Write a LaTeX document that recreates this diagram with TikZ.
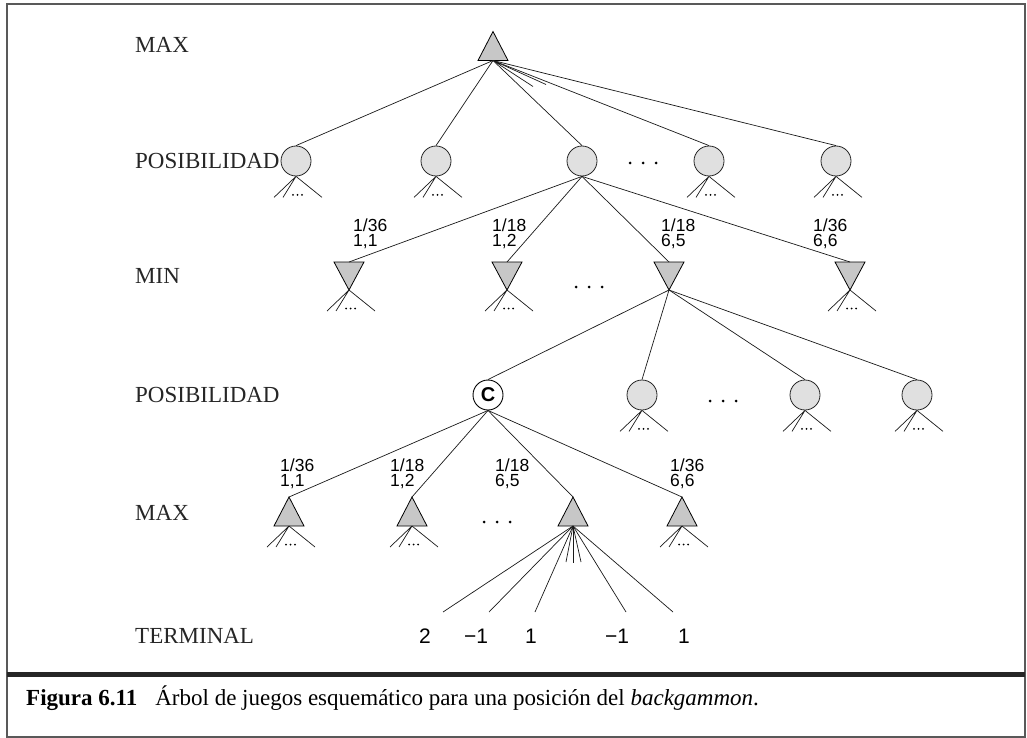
\documentclass[tikz,border=0pt]{standalone}
\usepackage{fontspec}
\setmainfont{Liberation Serif}
\newfontfamily\numfont{Liberation Sans}
\usetikzlibrary{calc}

\newcommand\MaxTri[3]{%
  \coordinate (#1) at (#2,#3);
  \coordinate (#1-t) at (#2,#3-14.5);
  \coordinate (#1-b) at (#2,#3+14.5);
  \draw[tri] (#1-t) -- (#2+15,#3+14.5) -- (#2-15,#3+14.5) -- cycle;}
\newcommand\MinTri[3]{%
  \coordinate (#1) at (#2,#3);
  \coordinate (#1-t) at (#2,#3-14);
  \coordinate (#1-b) at (#2,#3+14);
  \draw[tri] (#1-b) -- (#2+15,#3-14) -- (#2-15,#3-14) -- cycle;}
\newcommand\SubFan[1]{%
  \draw[edge] (#1) -- ++(-22,21) (#1) -- ++(-13,21) (#1) -- ++(26,21);
  \fill ($(#1)+(-3,18.5)$) circle (1) ++(4.5,0) circle (1) ++(4.5,0) circle (1);}
\newcommand\BigDots[2]{%
  \fill (#1-13,#2) circle (1.5) (#1,#2) circle (1.5) (#1+13,#2) circle (1.5);}

\begin{document}
\begin{tikzpicture}[x=1pt,y=-1pt,
  edge/.style={line width=0.7pt, black!90},
  tri/.style={draw=black, line width=0.8pt, fill=black!22, line join=miter},
  chance/.style={circle, draw=black!85, line width=0.8pt, fill=black!12, minimum size=30pt, inner sep=0pt},
  lvl/.style={anchor=base west, inner sep=0pt, font=\fontsize{23}{23}\selectfont, text=black!85},
  prob/.style={anchor=north west, inner sep=0pt, align=left, font=\numfont\fontsize{17.5}{15}\selectfont},
  term/.style={anchor=base, inner sep=0pt, font=\numfont\fontsize{21}{21}\selectfont}]
\useasboundingbox (0,0) rectangle (1027,738);

% frame
\draw[black!65, line width=1.2pt] (7,4) rectangle (1025,737);
\draw[black!85, line width=4.5pt] (7,674.5) -- (1025,674.5);

% row labels
\node[lvl] (L1) at (135,52.5) {MAX};
\node[lvl] (L2) at (135,168) {POSIBILIDAD};
\node[lvl] (L3) at (135,283) {MIN};
\node[lvl] (L4) at (135,402) {POSIBILIDAD};
\node[lvl] (L5) at (135,520) {MAX};
\node[lvl] (L6) at (135,643) {TERMINAL};

% level 0
\MaxTri{r}{493}{46}

% level 1
\node[chance] (c1) at (296,161) {};
\node[chance] (c2) at (436,161) {};
\node[chance] (c3) at (582,161) {};
\node[chance] (c4) at (709,161) {};
\node[chance] (c5) at (836,161) {};
\BigDots{643}{163}
\foreach \c in {c1,c2,c3,c4,c5} \draw[edge] (r-b) -- (\c.north);
\draw[edge] (r-b) -- ++(40,26) (r-b) -- ++(53,24);
\foreach \c in {c1,c2,c4,c5} \SubFan{\c.south};

% level 2
\MinTri{m1}{349}{276}
\MinTri{m2}{507}{276}
\MinTri{m3}{669}{276}
\MinTri{m4}{850}{276}
\BigDots{589}{287}
\foreach \m in {m1,m2,m3,m4} \draw[edge] (c3.south) -- (\m-t);
\foreach \m in {m1,m2,m4} \SubFan{\m-b};
\node[prob] (p1) at (353,219) {1/36\\1,1};
\node[prob] (p2) at (492,219) {1/18\\1,2};
\node[prob] (p3) at (661,219) {1/18\\6,5};
\node[prob] (p4) at (813,219) {1/36\\6,6};

% level 3
\node[circle, draw=black, line width=0.9pt, fill=white, minimum size=30pt, inner sep=0pt,
      font=\numfont\bfseries\fontsize{20}{20}\selectfont] (cc) at (488,395) {C};
\node[chance] (d1) at (642,395) {};
\node[chance] (d2) at (805,395) {};
\node[chance] (d3) at (917,395) {};
\BigDots{723}{401}
\foreach \d in {cc,d1,d2,d3} \draw[edge] (m3-b) -- (\d.north);
\foreach \d in {d1,d2,d3} \SubFan{\d.south};

% level 4
\MaxTri{a1}{289}{511.5}
\MaxTri{a2}{412}{511.5}
\MaxTri{a3}{573}{511.5}
\MaxTri{a4}{682}{511.5}
\BigDots{497}{522}
\foreach \a in {a1,a2,a3,a4} \draw[edge] (cc.south) -- (\a-t);
\foreach \a in {a1,a2,a4} \SubFan{\a-b};
\node[prob] (q1) at (280,459) {1/36\\1,1};
\node[prob] (q2) at (390,459) {1/18\\1,2};
\node[prob] (q3) at (495,459) {1/18\\6,5};
\node[prob] (q4) at (670,459) {1/36\\6,6};

% terminal level
\coordinate (t1) at (443,612);
\coordinate (t2) at (489,612);
\coordinate (t3) at (535,612);
\coordinate (t4) at (626,612);
\coordinate (t5) at (673,612);
\coordinate (s1) at (566,562);
\coordinate (s2) at (573,563);
\coordinate (s3) at (581,562);
\foreach \t in {t1,t2,t3,t4,t5,s1,s2,s3} \draw[edge] (a3-b) -- (\t);
\node[term] (v1) at (425,643) {2};
\node[term] (v2) at (476,643) {−1};
\node[term] (v3) at (531,643) {1};
\node[term] (v4) at (617,643) {−1};
\node[term] (v5) at (684,643) {1};

% caption
\node[anchor=base west, inner sep=0pt, font=\fontsize{23}{23}\selectfont] (cap) at (26,705)
  {\textbf{Figura 6.11}\hspace{18pt}Árbol de juegos esquemático para una posición del \textit{backgammon}.};
\end{tikzpicture}
\end{document}
